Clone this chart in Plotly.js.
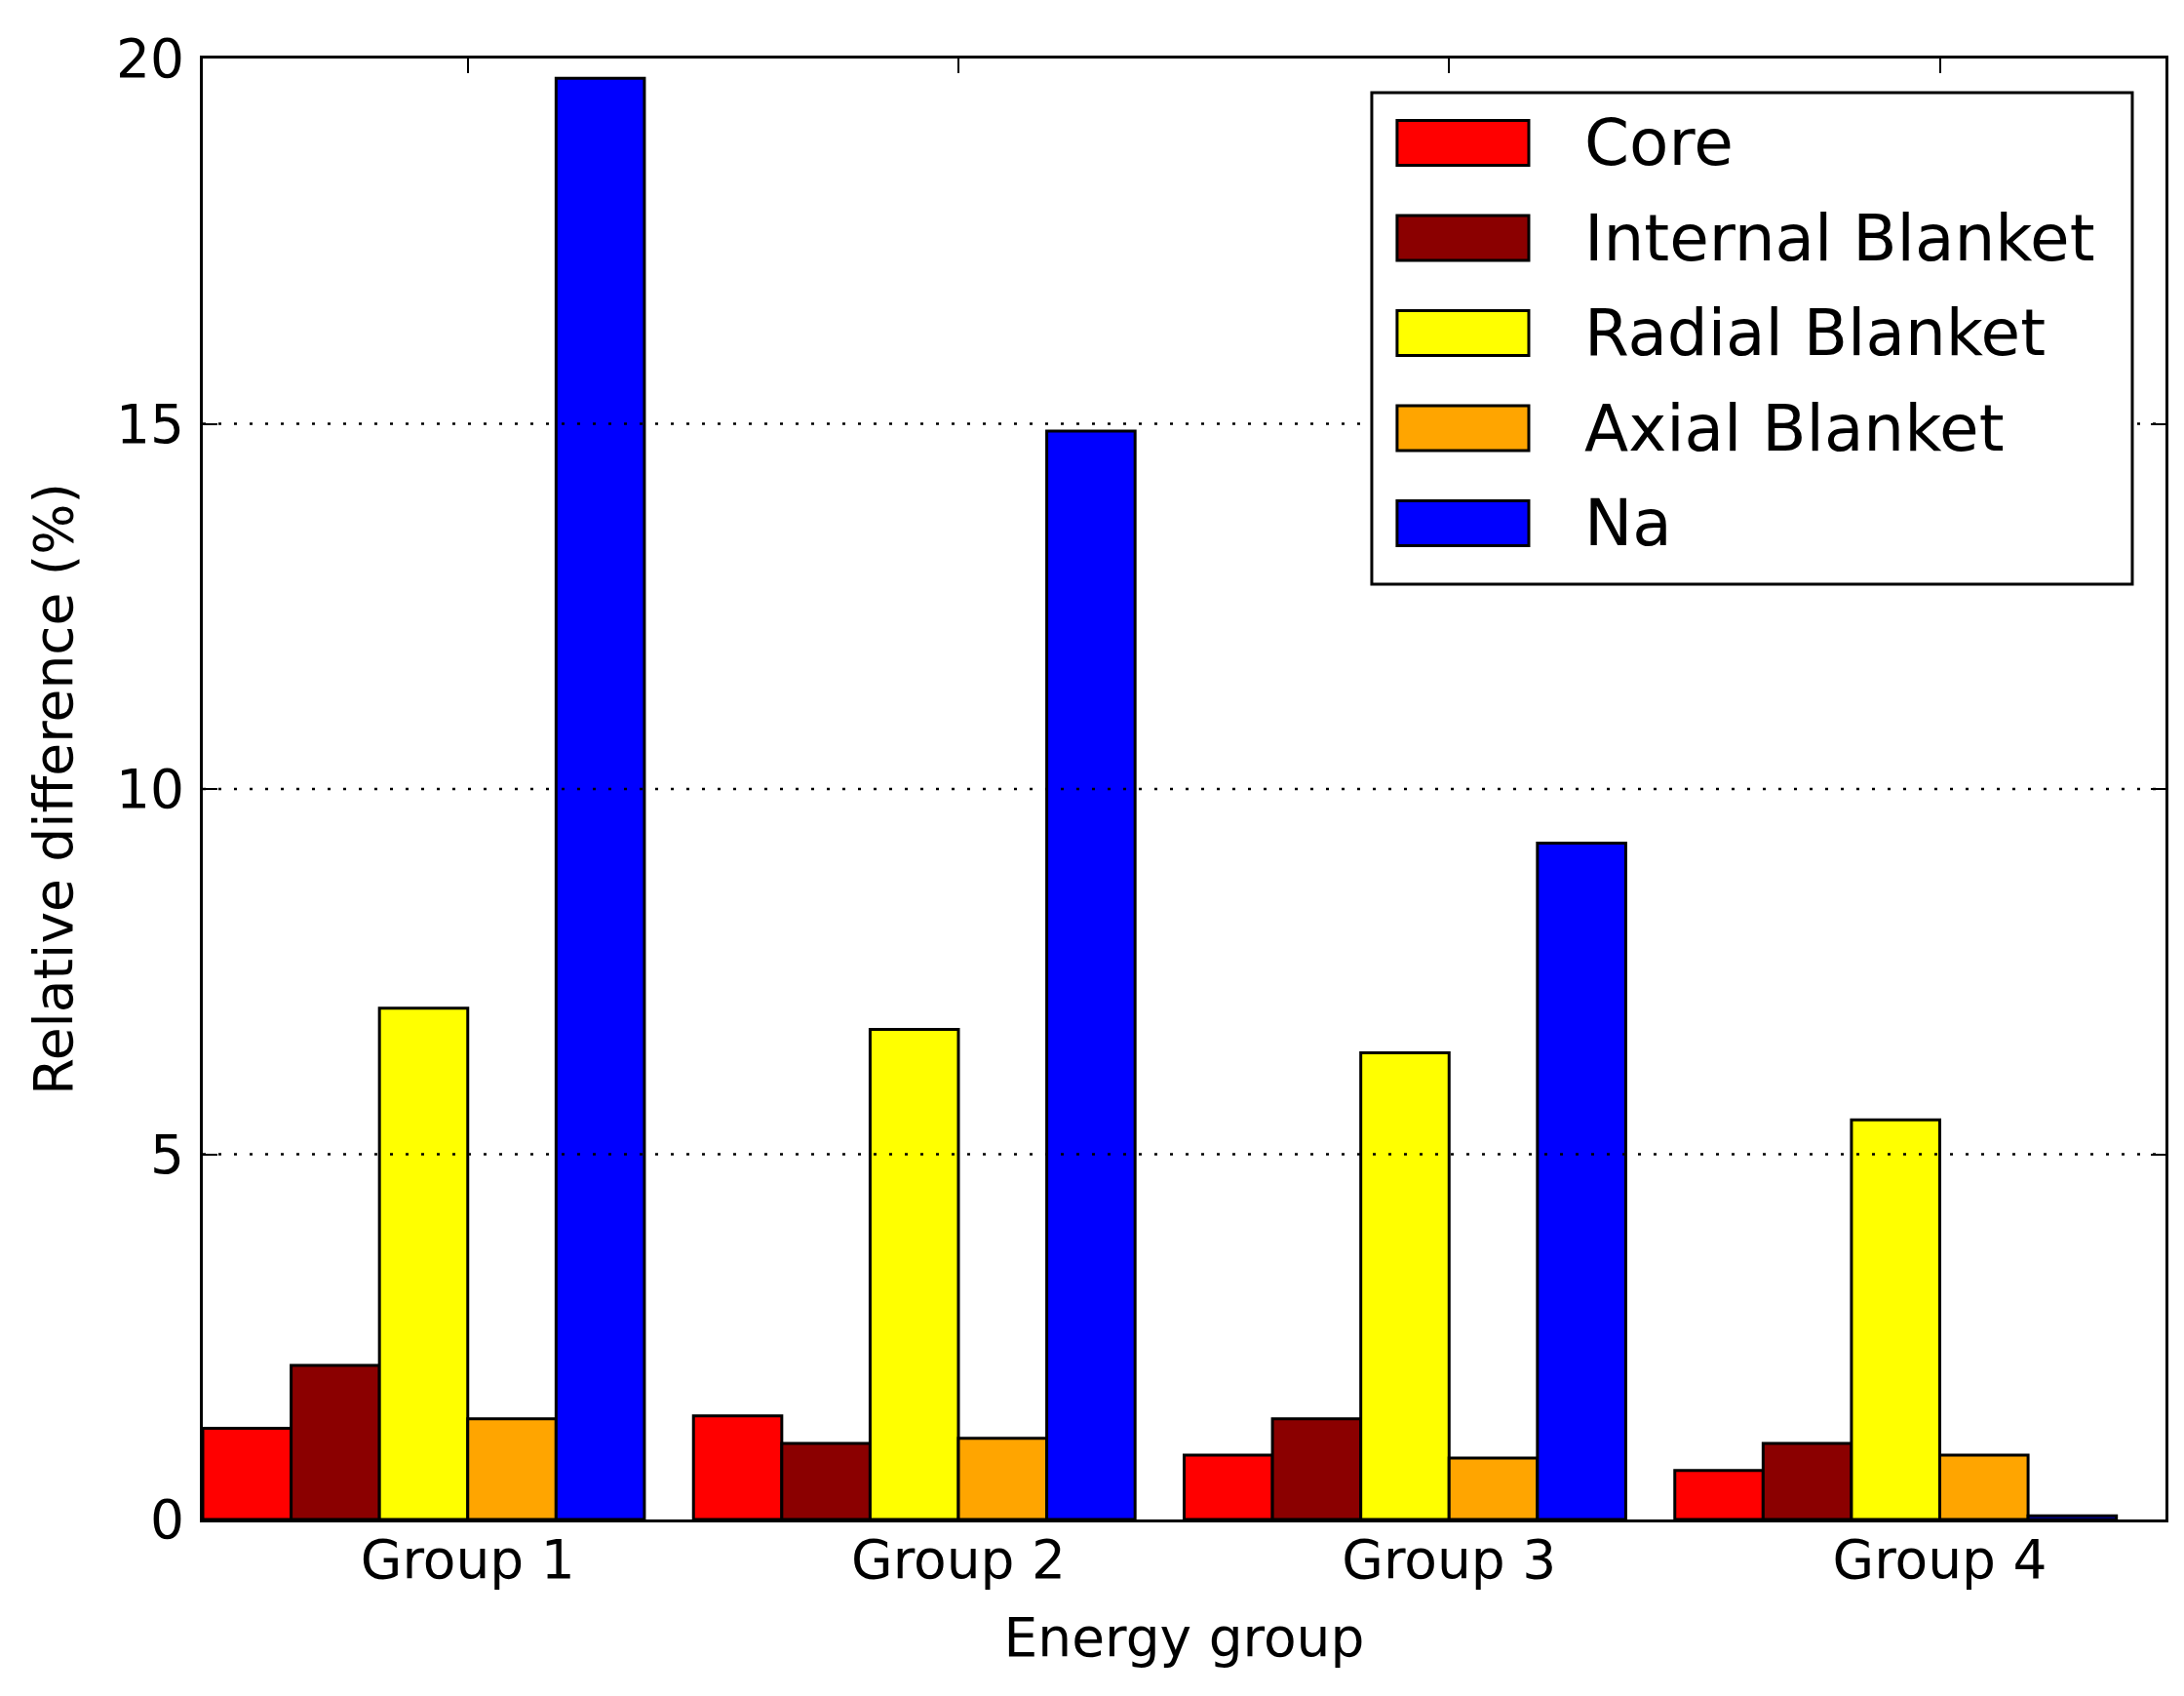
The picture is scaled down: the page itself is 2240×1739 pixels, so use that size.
<!DOCTYPE html>
<html>
<head>
<meta charset="utf-8">
<script src="https://cdn.plot.ly/plotly-3.0.1.min.js"></script>
<style>html,body{margin:0;padding:0;background:#fff;}#chart{width:2240px;height:1739px;}</style>
</head>
<body>
<div id="chart"></div>
<script>
// ---- data ----
const groupLabels = ["Group 1", "Group 2", "Group 3", "Group 4"];
const groupIndex = [0, 1, 2, 3];
const seriesNames = ["Core", "Internal Blanket", "Radial Blanket", "Axial Blanket", "Na"];
const seriesColors = ["#ff0000", "#8b0000", "#ffff00", "#ffa500", "#0000ff"];
const coreValues = [1.25, 1.42, 0.88, 0.67];
const internalBlanketValues = [2.11, 1.04, 1.38, 1.04];
const radialBlanketValues = [7.0, 6.71, 6.39, 5.47];
const axialBlanketValues = [1.38, 1.11, 0.84, 0.88];
const naValues = [19.73, 14.9, 9.26, 0.05];
const yTickValues = [0, 5, 10, 15, 20];
const xAxisTitle = "Energy group";
const yAxisTitle = "Relative difference (%)";

const seriesValues = [coreValues, internalBlanketValues, radialBlanketValues, axialBlanketValues, naValues];

// ---- styling ----
const FONT = "DejaVu Sans, sans-serif";
const barWidth = 0.18;

const traces = seriesNames.map((name, i) => ({
  type: "bar",
  name: name,
  x: groupIndex,
  y: seriesValues[i],
  width: barWidth,
  offset: i * barWidth,
  marker: { color: seriesColors[i], line: { color: "#000", width: 3 } },
  showlegend: false
}));

// dotted grid lines drawn above bars
const shapes = [];
yTickValues.filter(v => v > 0 && v < 20).forEach(v => {
  shapes.push({
    type: "line", xref: "paper", yref: "y", x0: 0, x1: 1, y0: v, y1: v,
    line: { color: "#000", width: 2.5, dash: "3px,13px" }, layer: "above"
  });
});

// legend (box, patches, labels)
const legX0 = 0.5956, legX1 = 0.9831, legY0 = 0.6402, legY1 = 0.9766;
shapes.push({
  type: "rect", xref: "paper", yref: "paper", x0: legX0, x1: legX1, y0: legY0, y1: legY1,
  line: { color: "#000", width: 3 }, fillcolor: "#fff", layer: "above"
});
const annotations = [];
const plotH = 1498;
const entryTop = 0.9766 - (146.5 - 95) / plotH;
const entryStep = 97.5 / plotH;
const patchHalf = 23 / plotH;
seriesNames.forEach((name, i) => {
  const yc = entryTop - i * entryStep;
  shapes.push({
    type: "rect", xref: "paper", yref: "paper", x0: 0.6085, x1: 0.6756,
    y0: yc - patchHalf, y1: yc + patchHalf,
    fillcolor: seriesColors[i], line: { color: "#000", width: 3 }, layer: "above"
  });
  annotations.push({
    xref: "paper", yref: "paper", x: 0.7029, y: yc, xanchor: "left", yanchor: "middle",
    text: name, showarrow: false, font: { family: FONT, size: 66, color: "#000" }
  });
});

const layout = {
  width: 2240,
  height: 1739,
  margin: { l: 208, r: 19, t: 60, b: 181 },
  paper_bgcolor: "#fff",
  plot_bgcolor: "#fff",
  font: { family: FONT, size: 55, color: "#000" },
  barmode: "overlay",
  showlegend: false,
  xaxis: {
    range: [0, 4],
    tickvals: groupIndex.map(i => i + 3 * barWidth),
    ticktext: groupLabels,
    ticks: "inside",
    ticklen: 15,
    tickwidth: 2,
    tickcolor: "#000",
    showline: true,
    linecolor: "#000",
    linewidth: 3,
    mirror: "ticks",
    showgrid: false,
    zeroline: false,
    ticklabelstandoff: -9,
    tickfont: { family: FONT, size: 55, color: "#000" },
    title: { text: xAxisTitle, font: { family: FONT, size: 55, color: "#000" }, standoff: 30 },
    layer: "above traces"
  },
  yaxis: {
    range: [0, 20],
    tickvals: yTickValues,
    ticktext: yTickValues.map(String),
    ticks: "inside",
    ticklen: 15,
    tickwidth: 2,
    tickcolor: "#000",
    showline: true,
    linecolor: "#000",
    linewidth: 3,
    mirror: "ticks",
    showgrid: false,
    zeroline: false,
    ticklabelstandoff: 5,
    tickfont: { family: FONT, size: 55, color: "#000" },
    title: { text: yAxisTitle, font: { family: FONT, size: 55, color: "#000" }, standoff: 27 },
    layer: "above traces"
  },
  shapes: shapes,
  annotations: annotations
};

Plotly.newPlot("chart", traces, layout, { staticPlot: true, displayModeBar: false });
</script>
</body>
</html>
